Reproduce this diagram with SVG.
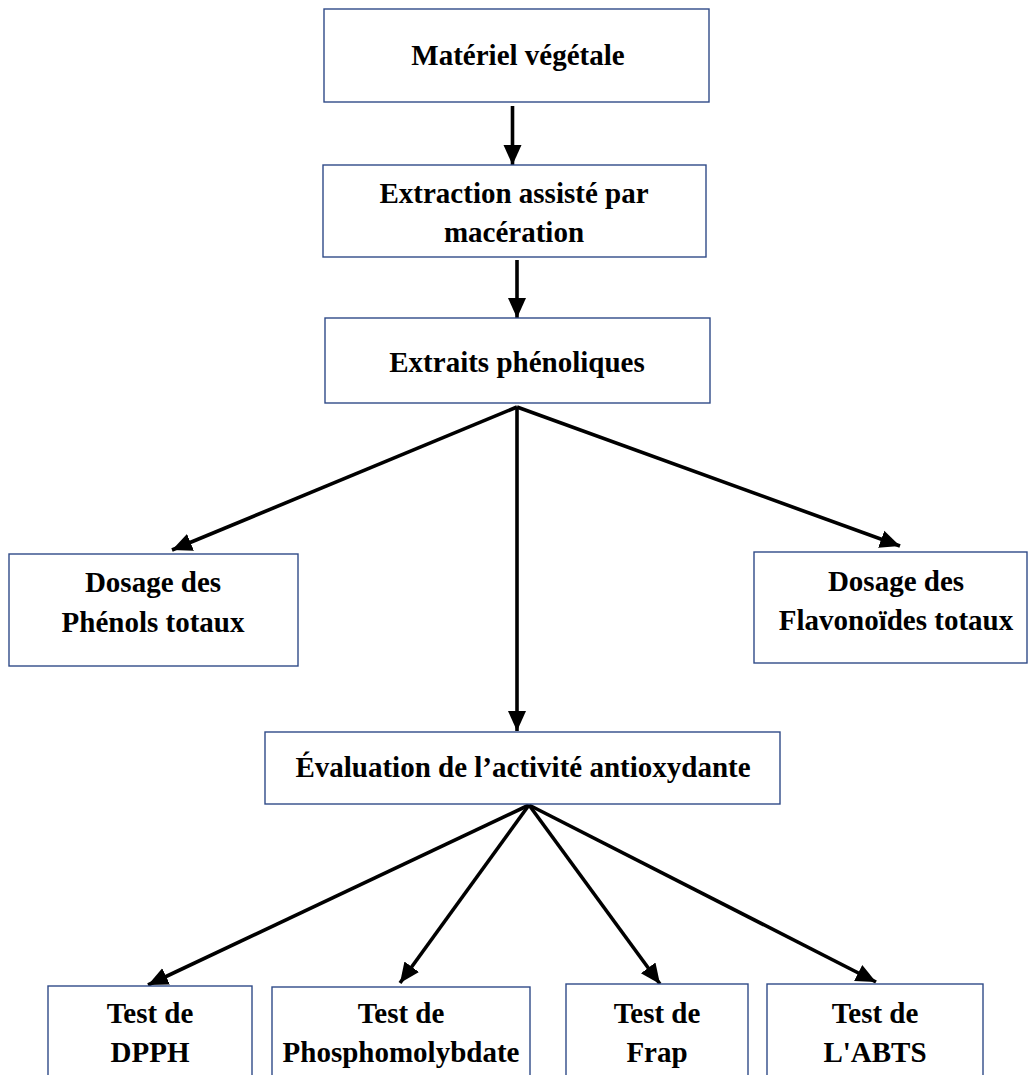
<svg xmlns="http://www.w3.org/2000/svg" width="1028" height="1075" viewBox="0 0 1028 1075">
<style>
.box{fill:#fff;stroke:#2f4a88;stroke-width:1.4}
.t{font-family:"Liberation Serif","Times New Roman",serif;font-weight:bold;font-size:29px;fill:#000;text-anchor:middle}
.c{stroke:#000;stroke-width:3.6;fill:none}
</style>
<defs>
<marker id="ah" markerUnits="userSpaceOnUse" markerWidth="22" markerHeight="20" refX="20" refY="9" orient="auto" viewBox="0 0 22 18">
<path d="M0,0 L20,9 L0,18 Z" fill="#000"/>
</marker>
</defs>
<rect width="1028" height="1075" fill="#fff"/>
<g id="connectors">
<line class="c" x1="512.5" y1="106" x2="512.5" y2="165" marker-end="url(#ah)"/>
<line class="c" x1="517" y1="260" x2="517" y2="318" marker-end="url(#ah)"/>
<line class="c" x1="517" y1="407" x2="172" y2="550" marker-end="url(#ah)"/>
<line class="c" x1="517" y1="407" x2="900" y2="546" marker-end="url(#ah)"/>
<line class="c" x1="517" y1="407" x2="517" y2="731" marker-end="url(#ah)"/>
<line class="c" x1="529" y1="805" x2="148" y2="985" marker-end="url(#ah)"/>
<line class="c" x1="529" y1="805" x2="400" y2="983" marker-end="url(#ah)"/>
<line class="c" x1="529" y1="805" x2="660" y2="984" marker-end="url(#ah)"/>
<line class="c" x1="529" y1="805" x2="876" y2="982" marker-end="url(#ah)"/>
</g>
<g id="n1"><rect class="box" x="324" y="9" width="385" height="93"/><text class="t" x="518" y="65">Matériel végétale</text></g>
<g id="n2"><rect class="box" x="323" y="165" width="383" height="92"/><text class="t" x="514" y="203">Extraction assisté par</text><text class="t" x="514" y="242">macération</text></g>
<g id="n3"><rect class="box" x="325" y="318" width="385" height="85"/><text class="t" x="517" y="372">Extraits phénoliques</text></g>
<g id="n4"><rect class="box" x="9" y="554" width="289" height="112"/><text class="t" x="153" y="592">Dosage des</text><text class="t" x="153" y="632">Phénols totaux</text></g>
<g id="n5"><rect class="box" x="754" y="552" width="273" height="111"/><text class="t" x="896" y="591">Dosage des</text><text class="t" x="896" y="630">Flavonoïdes totaux</text></g>
<g id="n6"><rect class="box" x="265" y="732" width="515" height="72"/><text class="t" x="523" y="777">Évaluation de l’activité antioxydante</text></g>
<g id="n7"><rect class="box" x="48" y="986" width="204" height="100"/><text class="t" x="150" y="1023">Test de</text><text class="t" x="150" y="1062">DPPH</text></g>
<g id="n8"><rect class="box" x="272" y="987" width="258" height="100"/><text class="t" x="401" y="1023">Test de</text><text class="t" x="401" y="1062">Phosphomolybdate</text></g>
<g id="n9"><rect class="box" x="566" y="984" width="182" height="100"/><text class="t" x="657" y="1023">Test de</text><text class="t" x="657" y="1062">Frap</text></g>
<g id="n10"><rect class="box" x="767" y="984" width="216" height="100"/><text class="t" x="875" y="1023">Test de</text><text class="t" x="875" y="1062">L'ABTS</text></g>
</svg>
